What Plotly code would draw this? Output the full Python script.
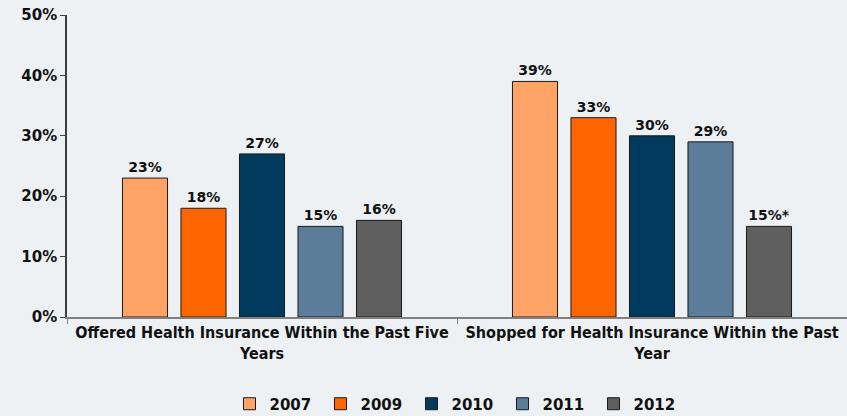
import plotly.graph_objects as go

categories = [
    "Offered Health Insurance Within the Past Five<br>Years",
    "Shopped for Health Insurance Within the Past<br>Year",
]
years = ["2007", "2009", "2010", "2011", "2012"]
values = {
    "2007": [23, 39],
    "2009": [18, 33],
    "2010": [27, 30],
    "2011": [15, 29],
    "2012": [16, 15],
}
label_suffix = {
    "2012": ["", "*"],
}
colors = {
    "2007": "#FFA366",
    "2009": "#FF6600",
    "2010": "#003A5C",
    "2011": "#5B7D9A",
    "2012": "#5F5F5F",
}

BG = "#EDF1F4"
FONT = "DejaVu Sans"

fig = go.Figure()
for yr in years:
    suffix = label_suffix.get(yr, ["", ""])
    fig.add_trace(go.Bar(
        name=yr,
        x=categories,
        y=values[yr],
        text=[f"{v}%{s}" for v, s in zip(values[yr], suffix)],
        textposition="outside",
        textfont=dict(family=FONT, size=14, color="#111111", weight="bold"),
        cliponaxis=False,
        marker=dict(color=colors[yr], line=dict(color="#1a1a1a", width=1)),
    ))

fig.update_layout(
    width=847, height=416,
    margin=dict(l=67, r=0, t=15, b=99, autoexpand=False),
    paper_bgcolor=BG, plot_bgcolor=BG,
    barmode="group", bargap=0.25, bargroupgap=0.23,
    showlegend=True,
    legend=dict(orientation="h", x=0.5, xanchor="center", y=-0.288, yanchor="middle",
                font=dict(family=FONT, size=15, color="#111111", weight="bold"),
                itemwidth=30, entrywidth=46, entrywidthmode="pixels",
                tracegroupgap=0, bgcolor="rgba(0,0,0,0)"),
    font=dict(family=FONT, color="#111111"),
)
fig.update_yaxes(
    range=[0, 50], dtick=10, ticksuffix="%",
    showgrid=False, zeroline=False,
    showline=True, linecolor="#404040", linewidth=1.5,
    ticks="outside", ticklen=5, tickcolor="#404040",
    tickfont=dict(family=FONT, size=15, color="#111111", weight="bold"),
)
fig.update_xaxes(
    showgrid=False, showline=True, linecolor="#808080", linewidth=2,
    ticks="outside", tickson="boundaries", ticklen=5, tickcolor="#808080",
    tickfont=dict(family="DejaVu Sans Condensed", size=16, color="#111111", weight="bold"),
)

fig.write_html("out.html")
